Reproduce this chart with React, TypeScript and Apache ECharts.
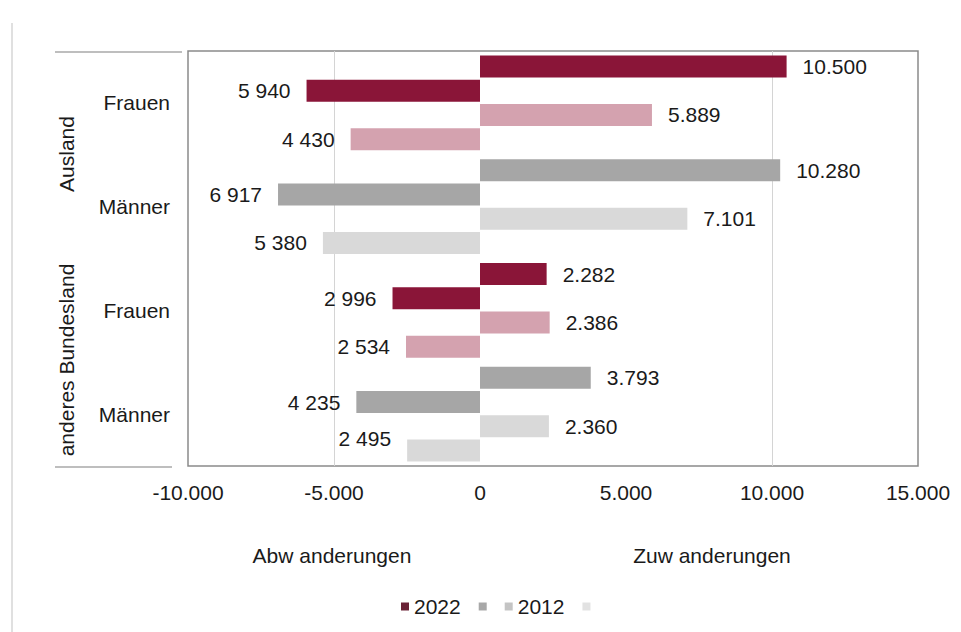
import React, { useEffect, useRef } from "react";
import * as echarts from "echarts";

// ---- data ----
const categories = ["Frauen", "Männer", "Frauen", "Männer"];
const groups = ["Ausland", "anderes Bundesland"];
const zu2022 = [10500, 10280, 2282, 3793];
const ab2022 = [-5940, -6917, -2996, -4235];
const zu2012 = [5889, 7101, 2386, 2360];
const ab2012 = [-4430, -5380, -2534, -2495];
const xMin = -10000;
const xMax = 15000;
const xStep = 5000;
const axisTitles = ["Abw anderungen", "Zuw anderungen"];
const legendNames = ["2022", "2022 Abw", "2012", "2012 Abw"];

// ---- styles ----
const FONT = "'Liberation Sans', Arial, sans-serif";
const TXT = "#1a1a1a";
const RED = "#8a1538";
const PINK = "#d4a2af";
const GRAY = "#a6a6a6";
const LGRAY = "#d9d9d9";
const pal2022 = [RED, GRAY, RED, GRAY];
const pal2012 = [PINK, LGRAY, PINK, LGRAY];
const legendColors = ["#6a2236", "#a8a8a8", "#c4c4c4", "#e2e2e2"];

const groupSep = (v: number, sep: string) =>
  Math.abs(Math.round(v)).toString().replace(/\B(?=(\d{3})+(?!\d))/g, sep);
const fmtDot = (v: number) => (v < 0 ? "-" : "") + groupSep(v, ".");
const fmtSpace = (v: number) => groupSep(v, " ");

function makeSeries(name: string, values: number[], palette: string[], neg: boolean, extra: any = {}) {
  return {
    name,
    type: "bar",
    barWidth: 22,
    barGap: "10%",
    data: values.map((v, i) => {
      const d: any = { value: v, itemStyle: { color: palette[i] } };
      if (extra.labelOffsets && extra.labelOffsets[i]) {
        d.label = { offset: extra.labelOffsets[i] };
      }
      return d;
    }),
    label: {
      show: true,
      position: neg ? "left" : "right",
      distance: 16,
      formatter: (p: any) => (neg ? fmtSpace(p.value) : fmtDot(p.value)),
      fontSize: 21,
      color: TXT,
      fontFamily: FONT,
    },
  };
}

export default function App() {
  const ref = useRef<HTMLDivElement>(null);
  useEffect(() => {
    if (!ref.current) return;
    const chart = echarts.init(ref.current, null, { renderer: "svg" });
    const option: any = {
      animation: false,
      backgroundColor: "#ffffff",
      grid: {
        left: 188,
        right: 43,
        top: 51,
        bottom: 166,
        show: true,
        borderColor: "#8a8a8a",
        borderWidth: 1.5,
        backgroundColor: "transparent",
      },
      xAxis: {
        type: "value",
        min: xMin,
        max: xMax,
        interval: xStep,
        axisLine: { show: false },
        axisTick: { show: false },
        axisLabel: {
          formatter: (v: number) => fmtDot(v),
          fontSize: 21,
          color: TXT,
          fontFamily: FONT,
          margin: 16,
        },
        splitLine: {
          show: true,
          lineStyle: {
            color: ["transparent", "#d4d4d4", "transparent", "transparent", "#d4d4d4", "transparent"],
            width: 1,
          },
        },
      },
      yAxis: {
        type: "category",
        inverse: true,
        data: categories.map((c, i) => ({ value: i + "_" + c })),
        axisLine: { show: false },
        axisTick: { show: false },
        splitLine: { show: false },
        axisLabel: {
          formatter: (v: string) => v.split("_")[1],
          fontSize: 21,
          color: TXT,
          fontFamily: FONT,
          margin: 18,
        },
      },
      legend: {
        left: 396,
        top: 591,
        itemWidth: 8,
        itemHeight: 8,
        itemGap: 18,
        icon: "rect",
        formatter: (n: string) => (n.includes("Abw") ? "" : n),
        textStyle: { fontSize: 21, color: TXT, fontFamily: FONT },
        data: legendNames.map((n, i) => ({ name: n, itemStyle: { color: legendColors[i] } })),
      },
      series: [
        makeSeries(legendNames[0], zu2022, pal2022, false),
        makeSeries(legendNames[1], ab2022, pal2022, true),
        makeSeries(legendNames[2], zu2012, pal2012, false),
        makeSeries(legendNames[3], ab2012, pal2012, true, { labelOffsets: [null, null, null, [0, -12]] }),
      ],
      graphic: [
        { type: "line", shape: { x1: 12, y1: 23, x2: 12, y2: 632 }, style: { stroke: "#e0e0e0", lineWidth: 2 } },
        { type: "line", shape: { x1: 55, y1: 52, x2: 182, y2: 52 }, style: { stroke: "#a8a8a8", lineWidth: 1.5 } },
        { type: "line", shape: { x1: 55, y1: 467, x2: 172, y2: 467 }, style: { stroke: "#a8a8a8", lineWidth: 1.5 } },
        {
          type: "text",
          x: 66,
          y: 154,
          rotation: Math.PI / 2,
          style: { text: groups[0], fontSize: 21, fill: TXT, fontFamily: FONT, textAlign: "center", textVerticalAlign: "middle" },
        },
        {
          type: "text",
          x: 66,
          y: 360,
          rotation: Math.PI / 2,
          style: { text: groups[1], fontSize: 21, fill: TXT, fontFamily: FONT, textAlign: "center", textVerticalAlign: "middle" },
        },
        {
          type: "text",
          x: 332,
          y: 555,
          style: { text: axisTitles[0], fontSize: 21, fill: TXT, fontFamily: FONT, textAlign: "center", textVerticalAlign: "middle" },
        },
        {
          type: "text",
          x: 712,
          y: 555,
          style: { text: axisTitles[1], fontSize: 21, fill: TXT, fontFamily: FONT, textAlign: "center", textVerticalAlign: "middle" },
        },
      ],
    };
    chart.setOption(option);
    return () => chart.dispose();
  }, []);
  return (
    <div
      ref={ref}
      style={{ position: "fixed", left: 0, top: 0, width: 961, height: 632, background: "#fff" }}
    />
  );
}
